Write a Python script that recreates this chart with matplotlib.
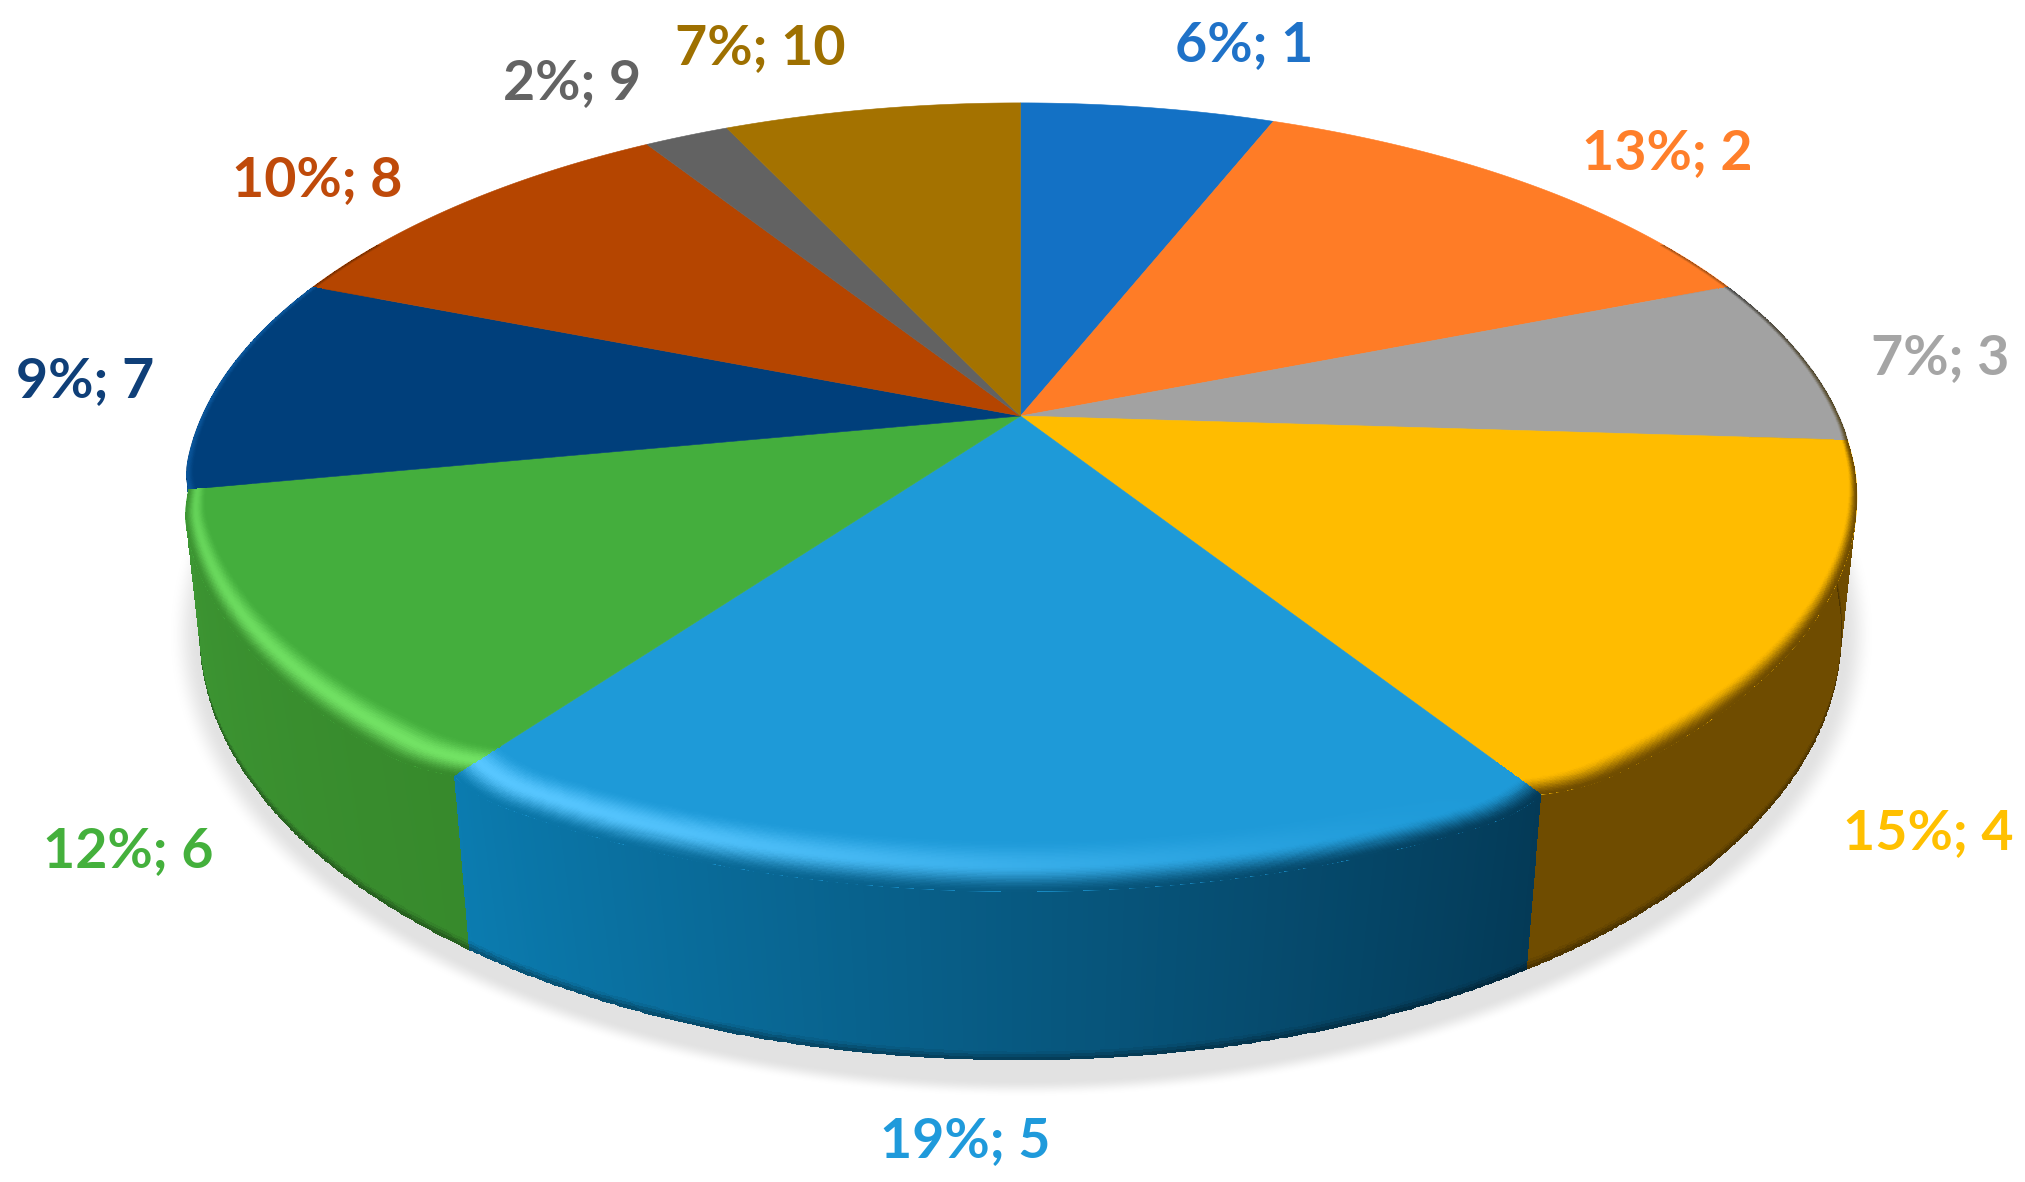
import numpy as np
import matplotlib
matplotlib.use('Agg')
import matplotlib.pyplot as plt
from matplotlib.colors import to_rgb

names = ["1", "2", "3", "4", "5", "6", "7", "8", "9", "10"]
values = [6, 13, 7, 15, 19, 12, 9, 10, 2, 7]

top_colors = ["#1371C5", "#FF7C26", "#A2A2A2", "#FFBC00", "#1E9AD8",
              "#44AE3D", "#003F7B", "#B54500", "#626262", "#A47200"]
text_colors = ["#1F72C8", "#FF7F2A", "#A5A5A5", "#FFC000", "#1F9ADB",
               "#44B03C", "#0F3F78", "#BF4A0A", "#636363", "#9E7000"]
# side colour at the start and at the end of each slice (clockwise)
side_start = ["#0B4A82", "#A85418", "#4E4E4E", "#6F4C00", "#043A57",
              "#378A2C", "#0A559A", "#7A3000", "#444444", "#6E4C00"]
side_end = ["#0B4A82", "#A85418", "#5A4A20", "#6F4C00", "#0B7CB0",
            "#3D9633", "#0A559A", "#7A3000", "#444444", "#6E4C00"]
hl_colors = ["#1371C5", "#FF7C26", "#A2A2A2", "#FFBC00", "#57C6FF",
             "#72E264", "#0A559A", "#B54500", "#626262", "#A47200"]
hl_from = [0, 0, 0, 0, 0, 1.0, 0, 0, 0, 0]
hl_to = [0, 0, 0, 0, 1.0, 0.6, 0, 0, 0, 0]

label_xy = [(1244, 45), (1667, 153), (1940, 358), (1928, 833), (965, 1141),
            (128, 851), (85, 381), (317, 180), (572, 83), (760, 48)]

# perspective of the disc, in picture pixels
cx, cy = 1020.5, 416
a, b, k = 818.5, 377.6, 0.206
low_a, low_b, low_k, low_y = 809, 414.3, 0.17, 561
corner = np.radians(5)


def disc(theta, r=1.0):
    u = r * np.sin(theta)
    v = r * np.cos(theta)
    w = 1 + k * v
    return cx + a * u / w, cy - b * v / w


def low_disc(theta):
    u = np.sin(theta)
    v = np.cos(theta)
    w = 1 + low_k * v
    return cx + low_a * u / w, low_y - low_b * v / w


def smooth(t):
    t = np.clip(t, 0, 1)
    return t * t * (3 - 2 * t)


def rounded(theta, t0, t1):
    # slices pull in a bit at their front corners
    front = smooth(-np.cos(theta) * 2)
    near0 = np.clip(1 - (theta - t0) / corner, 0, 1) ** 2
    near1 = np.clip(1 - (t1 - theta) / corner, 0, 1) ** 2
    return 1 - 0.016 * front * (near0 + near1)


fig = plt.figure(figsize=(20.25, 11.82), dpi=100)
ax = fig.add_axes([0, 0, 1, 1])
ax.set_xlim(0, 2025)
ax.set_ylim(1182, 0)
ax.axis('off')

# soft shadow under the pie
yy, xx = np.mgrid[0:1182, 0:2025]
dist = np.sqrt(((xx - 1021) / 852) ** 2 + ((yy - 634) / 462) ** 2)
shadow = np.zeros((1182, 2025, 4))
shadow[..., :3] = 0.89
shadow[..., 3] = smooth((1 - dist) / 0.035)
ax.imshow(shadow, extent=(0, 2025, 1182, 0), zorder=1, aspect='auto')

edges = np.radians(np.cumsum([0] + values) * 3.6)
mids = (edges[:-1] + edges[1:]) / 2

# walls, the ones furthest from the front first
for i in np.argsort(-np.abs(mids - np.pi)):
    t0, t1 = edges[i], edges[i + 1]
    lo, hi = max(t0, np.radians(60)), min(t1, np.radians(300))
    if hi <= lo:
        continue
    s0 = np.array(to_rgb(side_start[i]))
    s1 = np.array(to_rgb(side_end[i]))
    th = np.linspace(lo, hi, 240)
    rows = np.linspace(0, 1, 60)
    tx, ty = disc(th, rounded(th, t0, t1))
    bx, by = low_disc(th)
    X = np.outer(1 - rows, tx) + np.outer(rows, bx)
    Y = np.outer(1 - rows, ty) + np.outer(rows, by)
    f = (th[:-1] - t0) / (t1 - t0)
    col = s0[None, :] * (1 - f[:, None]) + s1[None, :] * f[:, None]
    C = np.repeat(col[None, :, :], len(rows) - 1, axis=0)
    dark = 1 - 0.35 * smooth((rows[:-1] - 0.93) / 0.07)
    C = C * dark[:, None, None]
    ax.pcolormesh(X, Y, C, shading='flat', zorder=2, antialiased=False)

for i in range(len(values)):
    t0, t1 = edges[i], edges[i + 1]
    lo, hi = max(t0, np.radians(60)), min(t1, np.radians(300))
    top = np.array(to_rgb(top_colors[i]))
    s0 = np.array(to_rgb(side_start[i]))
    s1 = np.array(to_rgb(side_end[i]))
    hl = np.array(to_rgb(hl_colors[i]))

    # top face of the slice
    arc = np.linspace(t0, t1, 300)
    px, py = disc(arc, rounded(arc, t0, t1))
    ax.fill(np.r_[cx, px], np.r_[cy, py], color=top_colors[i], lw=0.4, zorder=3)

    # rounded rim between top face and wall
    if hi > lo:
        th = np.linspace(lo, hi, 240)
        rows = np.linspace(0, 1, 40)
        eps = 0.015 + 0.075 * np.clip(-np.cos(th), 0, 1) ** 1.5
        edge_r = rounded(th, t0, t1)
        X = np.zeros((len(rows), len(th)))
        Y = np.zeros((len(rows), len(th)))
        for j, s in enumerate(rows):
            X[j], Y[j] = disc(th, edge_r * (1 - eps * (1 - s)))
        f = (th[:-1] - t0) / (t1 - t0)
        sd = s0[None, :] * (1 - f[:, None]) + s1[None, :] * f[:, None]
        strength = smooth(hl_from[i] + (hl_to[i] - hl_from[i]) * f)
        mid = top[None, :] + (hl - top)[None, :] * strength[:, None]
        C = np.zeros((len(rows) - 1, len(th) - 1, 3))
        for j, s in enumerate(rows[:-1]):
            if s < 0.5:
                g = smooth(s / 0.5)
                C[j] = top * (1 - g) + mid * g
            else:
                g = smooth((s - 0.5) / 0.5)
                C[j] = mid * (1 - g) + sd * g
        ax.pcolormesh(X, Y, C, shading='flat', zorder=4, antialiased=False)

for i in range(len(values)):
    ax.text(label_xy[i][0], label_xy[i][1], f"{values[i]}%; {names[i]}",
            color=text_colors[i], fontsize=40, fontweight='bold', family='Lato',
            ha='center', va='center', zorder=6)

plt.savefig("out.png", dpi=100)
